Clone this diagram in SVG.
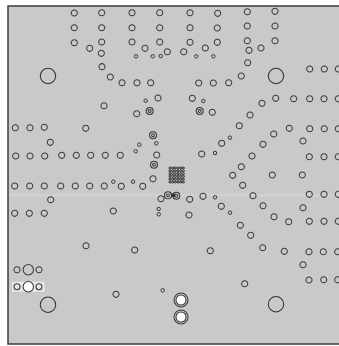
<svg xmlns="http://www.w3.org/2000/svg" width="339" height="346" viewBox="0 0 339 346">
<style>
circle{fill:none;stroke:#3a3a3a;stroke-width:1.05}
.s{stroke-width:1}
.b{stroke:#333}
.w{fill:#fff}
.g{fill:#b4b5b7;stroke:#222;stroke-width:.9}
</style>
<defs>
<circle id="v" r="3.05"/>
<circle id="t" r="1.75" class="s"/>
<g id="d"><circle r="3.5"/><circle r="1.4" stroke-width=".9"/></g>
<circle id="q" r="1.05" class="g"/>
<g id="r"><use href="#q" x="0"/><use href="#q" x="2.67"/><use href="#q" x="5.34"/><use href="#q" x="8.01"/><use href="#q" x="10.68"/><use href="#q" x="13.35"/></g>
</defs>
<rect width="339" height="346" fill="#fff"/>
<rect x="8" y="6" width="332" height="338" fill="#c8c9cb" stroke="#3c3c3c" stroke-width="1.5"/>
<rect x="9" y="194" width="330" height="2.4" fill="#d0d1d3"/>
<rect x="12" y="281.7" width="32.7" height="10" fill="#e6e7e8"/>
<g id="bga">
<use href="#r" x="170" y="168"/><use href="#r" x="170" y="170.8"/><use href="#r" x="170" y="173.6"/><use href="#r" x="170" y="176.4"/><use href="#r" x="170" y="179.2"/><use href="#r" x="170" y="182"/>
</g>
<rect x="171" y="193.5" width="4" height="3.5" fill="#333"/>
<g id="top-left">
<use href="#v" x="74.3" y="13"/><use href="#v" x="101.7" y="12.7"/><use href="#v" x="132" y="12.7"/><use href="#v" x="159.7" y="12.7"/>
<use href="#v" x="74.3" y="27.7"/><use href="#v" x="101.7" y="27.7"/><use href="#v" x="132" y="27.7"/><use href="#v" x="159.7" y="27.7"/>
<use href="#v" x="74.3" y="42.7"/><use href="#v" x="101.7" y="42"/><use href="#v" x="132" y="42"/><use href="#v" x="159.7" y="42"/>
<use href="#v" x="89.7" y="48.3"/><use href="#v" x="101.3" y="53.3"/><use href="#t" x="136" y="56.3"/><use href="#v" x="145" y="48.3"/><use href="#t" x="152.7" y="56.3"/><use href="#t" x="160.7" y="56"/><use href="#v" x="167.3" y="51.7"/>
<use href="#v" x="102" y="66.7"/><use href="#v" x="110.3" y="77"/><use href="#v" x="122" y="82.7"/><use href="#v" x="137" y="82.7"/><use href="#v" x="150.7" y="82.7"/>
<use href="#v" x="158" y="98"/><use href="#t" x="145.7" y="100.7"/><use href="#v" x="104" y="105.7"/><use href="#v" x="136.7" y="113.7"/><use href="#d" x="149.7" y="111"/>
<circle cx="48" cy="76" r="7.7" class="b"/>
</g>
<g id="top-right">
<use href="#v" x="190" y="12.7"/><use href="#v" x="217.7" y="13.3"/><use href="#v" x="247.3" y="11.7"/><use href="#v" x="275" y="11.3"/>
<use href="#v" x="190" y="27.7"/><use href="#v" x="217.3" y="28"/><use href="#v" x="247.3" y="26"/><use href="#v" x="275" y="26"/>
<use href="#v" x="190" y="42.3"/><use href="#v" x="217.3" y="42.3"/><use href="#v" x="247.3" y="40.7"/><use href="#v" x="275" y="40.7"/>
<use href="#v" x="183.7" y="51.7"/><use href="#v" x="205.3" y="48"/><use href="#t" x="196.3" y="56.3"/><use href="#t" x="213.3" y="56.3"/><use href="#v" x="249" y="50.3"/><use href="#v" x="261" y="48"/><use href="#v" x="247.7" y="62.7"/><use href="#v" x="241.3" y="76"/>
<use href="#v" x="309.7" y="69"/><use href="#v" x="324.3" y="69"/><use href="#v" x="338.3" y="69"/>
<use href="#v" x="198.7" y="83"/><use href="#v" x="213.3" y="83"/><use href="#v" x="228.7" y="82.7"/>
<use href="#v" x="192.3" y="98.3"/><use href="#t" x="203.3" y="101"/><use href="#d" x="199.7" y="111"/><use href="#v" x="212.3" y="112.3"/><use href="#v" x="250" y="115"/><use href="#v" x="262" y="103.3"/><use href="#v" x="275.7" y="98.3"/><use href="#v" x="293.7" y="98.7"/><use href="#v" x="309.7" y="98.7"/><use href="#v" x="324" y="98.7"/><use href="#v" x="338.3" y="98.7"/>
<circle cx="276" cy="76" r="7.7" class="b"/>
</g>
<g id="mid-left">
<use href="#v" x="15.3" y="127.7"/><use href="#v" x="30" y="127.7"/><use href="#v" x="44.3" y="127.3"/><use href="#v" x="85.7" y="128.3"/><use href="#v" x="50.3" y="142.3"/>
<use href="#d" x="153" y="135.2"/><use href="#t" x="156.3" y="143.3"/><use href="#t" x="139.3" y="144.7"/><use href="#t" x="135.7" y="151.3"/>
<use href="#v" x="15.7" y="156"/><use href="#v" x="30" y="156"/><use href="#v" x="44.7" y="156"/><use href="#v" x="61.7" y="155.3"/><use href="#v" x="76.3" y="155.3"/><use href="#v" x="90.7" y="155.3"/><use href="#v" x="105.3" y="155.3"/><use href="#v" x="120.3" y="155.3"/>
<use href="#v" x="156.7" y="155"/><use href="#d" x="154" y="164.7"/><use href="#v" x="153" y="178.7"/>
<use href="#v" x="14.7" y="186"/><use href="#v" x="29.7" y="186"/><use href="#v" x="44.3" y="186"/><use href="#v" x="60.7" y="186"/><use href="#v" x="75.3" y="186"/><use href="#v" x="89.7" y="186"/><use href="#v" x="104.3" y="186"/><use href="#v" x="121.3" y="186.3"/><use href="#v" x="142.7" y="186.3"/><use href="#t" x="113.3" y="181.7"/><use href="#t" x="133" y="181.7"/>
<use href="#v" x="50.7" y="199.7"/><use href="#v" x="161" y="198.7"/><use href="#d" x="168" y="195.3"/>
<use href="#v" x="14.7" y="213.3"/><use href="#v" x="29.3" y="213.3"/><use href="#v" x="44.3" y="213.3"/><use href="#v" x="113.3" y="211"/><use href="#t" x="158.7" y="209"/><use href="#t" x="158.7" y="214.3"/>
</g>
<g id="mid-right">
<use href="#v" x="239.3" y="125.7"/><use href="#t" x="230" y="137.7"/><use href="#v" x="221.7" y="143.3"/><use href="#v" x="201.7" y="154"/><use href="#t" x="215" y="153"/>
<use href="#v" x="273.7" y="134"/><use href="#v" x="289.3" y="128.3"/><use href="#v" x="309.7" y="128.7"/><use href="#v" x="324.3" y="128.7"/><use href="#v" x="338.3" y="128.7"/>
<use href="#v" x="263" y="144.3"/><use href="#v" x="303" y="141"/><use href="#v" x="252" y="156"/><use href="#v" x="309.3" y="156.7"/><use href="#v" x="324" y="156.7"/><use href="#v" x="338.3" y="156.7"/>
<use href="#v" x="241.3" y="166.7"/><use href="#v" x="232.7" y="175.3"/><use href="#v" x="272.3" y="175"/><use href="#v" x="302.3" y="175"/><use href="#v" x="242.7" y="185.3"/><use href="#v" x="253" y="195.7"/>
<use href="#v" x="309.3" y="194.3"/><use href="#v" x="324" y="194.3"/><use href="#v" x="338.3" y="194.3"/>
<use href="#d" x="176.3" y="195.7"/><use href="#v" x="189.7" y="199.3"/><use href="#v" x="203" y="196.3"/><use href="#t" x="215" y="197.3"/><use href="#v" x="221.3" y="206.3"/><use href="#t" x="230" y="212.7"/><use href="#v" x="189" y="215"/>
<use href="#v" x="263" y="205.7"/><use href="#v" x="303" y="207.7"/><use href="#v" x="274" y="216.7"/><use href="#v" x="288.7" y="221.7"/><use href="#v" x="309.3" y="221.3"/><use href="#v" x="324" y="221.3"/><use href="#v" x="338.3" y="221.3"/>
<use href="#v" x="240.3" y="225.3"/><use href="#v" x="250.7" y="235.3"/>
</g>
<g id="bottom-left">
<use href="#v" x="86" y="245.7"/><use href="#v" x="134.7" y="250"/><use href="#v" x="17" y="269.7"/><use href="#v" x="39" y="269.7"/>
<circle cx="28.3" cy="269.7" r="5.2"/>
<circle cx="17" cy="286.7" r="3"/><circle cx="39" cy="286.7" r="3"/>
<circle cx="28.3" cy="286.7" r="5.2" class="w"/>
<circle cx="48" cy="304.7" r="7.7" class="b"/>
<use href="#v" x="116" y="294.3"/><use href="#t" x="162.7" y="290.3"/>
</g>
<g id="bottom-right">
<use href="#v" x="210.3" y="250.7"/><use href="#v" x="262.7" y="247.7"/><use href="#v" x="284.3" y="251.3"/><use href="#v" x="309" y="251.7"/><use href="#v" x="323.3" y="251.7"/><use href="#v" x="337.7" y="251.7"/>
<use href="#v" x="303" y="264.7"/><use href="#v" x="309" y="280"/><use href="#v" x="323.7" y="279.7"/><use href="#v" x="337.7" y="279.7"/><use href="#v" x="244.7" y="283.7"/>
<circle cx="276" cy="304.3" r="7.7" class="b"/>
<circle cx="181" cy="300" r="7"/><circle cx="181" cy="300" r="5" class="w"/>
<circle cx="181" cy="317" r="7"/><circle cx="181" cy="317" r="5" class="w"/>
</g>
</svg>
